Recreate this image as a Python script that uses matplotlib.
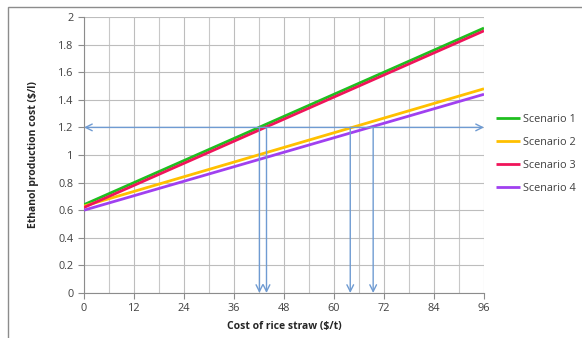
import matplotlib.pyplot as plt
from matplotlib.patches import Rectangle

# straw cost endpoints ($/t) and ethanol cost per scenario ($/l)
straw_cost = [0, 96]
scenarios = ['Scenario 1', 'Scenario 2', 'Scenario 3', 'Scenario 4']
scen_cost = {
    'Scenario 1': [0.64, 1.92],
    'Scenario 2': [0.63, 1.48],
    'Scenario 3': [0.62, 1.90],
    'Scenario 4': [0.60, 1.44],
}
colors = {
    'Scenario 1': '#1fbf1f',
    'Scenario 2': '#ffc000',
    'Scenario 3': '#f0145a',
    'Scenario 4': '#a040f0',
}
# break-even cost level and where each scenario hits it
target_cost = 1.2
breakeven_x = [42.1, 43.8, 63.9, 69.4]

xticks = [0, 12, 24, 36, 48, 60, 72, 84, 96]
yticks = [0, 0.2, 0.4, 0.6, 0.8, 1, 1.2, 1.4, 1.6, 1.8, 2]
ytick_labels = ['0', '0.2', '0.4', '0.6', '0.8', '1', '1.2', '1.4', '1.6', '1.8', '2']

plt.rcParams['font.family'] = ['Open Sans', 'DejaVu Sans']

fig = plt.figure(figsize=(5.82, 3.38), dpi=100)
ax = fig.add_axes([84 / 582, 1 - 293 / 338, 400 / 582, 276 / 338])

# chart area frame
fig.patches.append(Rectangle((8 / 582, -0.02), 1.0, 1 - 7 / 338 + 0.02,
                             transform=fig.transFigure, fill=False,
                             edgecolor='#8c8c8c', linewidth=1.0))

for s in scenarios:
    ax.plot(straw_cost, scen_cost[s], color=colors[s], linewidth=2.0,
            label=s, solid_capstyle='butt', zorder=3)

arrow_col = '#6f9bd2'
ax.annotate('', xy=(96, target_cost), xytext=(0, target_cost),
            arrowprops=dict(arrowstyle='<->', color=arrow_col, lw=1.0,
                            shrinkA=0, shrinkB=0, mutation_scale=12), zorder=4)
for bx in breakeven_x:
    ax.annotate('', xy=(bx, 0), xytext=(bx, target_cost),
                arrowprops=dict(arrowstyle='->', color=arrow_col, lw=1.0,
                                shrinkA=0, shrinkB=0, mutation_scale=12), zorder=4)

ax.set_xlim(0, 96)
ax.set_ylim(0, 2)
ax.set_xticks(xticks)
ax.set_xticks(range(6, 96, 12), minor=True)
ax.set_yticks(yticks)
ax.set_yticklabels(ytick_labels)
ax.grid(True, which='major', color='#bdbdbd', linewidth=0.8)
ax.grid(True, which='minor', axis='x', color='#c8c8c8', linewidth=0.8)
ax.set_axisbelow(True)
ax.tick_params(axis='both', which='major', labelsize=7.8, colors='#8c8c8c',
               labelcolor='#404040', length=4, width=0.8)
ax.tick_params(axis='x', which='minor', length=0)
for side in ['top', 'right']:
    ax.spines[side].set_visible(False)
for side in ['left', 'bottom']:
    ax.spines[side].set_color('#8c8c8c')
    ax.spines[side].set_linewidth(0.8)

ax.set_xlabel('Cost of rice straw ($/t)', fontsize=7.5, fontweight='bold',
              color='#262626', labelpad=5)
ax.set_ylabel('Ethanol production cost ($/l)', fontsize=7.5, fontweight='bold',
              color='#262626', labelpad=14)

leg = ax.legend(loc='upper left', bbox_to_anchor=(1.02, 0.665), frameon=False,
                fontsize=7.8, handlelength=2.2, handletextpad=0.3,
                labelspacing=1.1, borderaxespad=0)
for t in leg.get_texts():
    t.set_color('#404040')

fig.savefig('out.png', dpi=100)
